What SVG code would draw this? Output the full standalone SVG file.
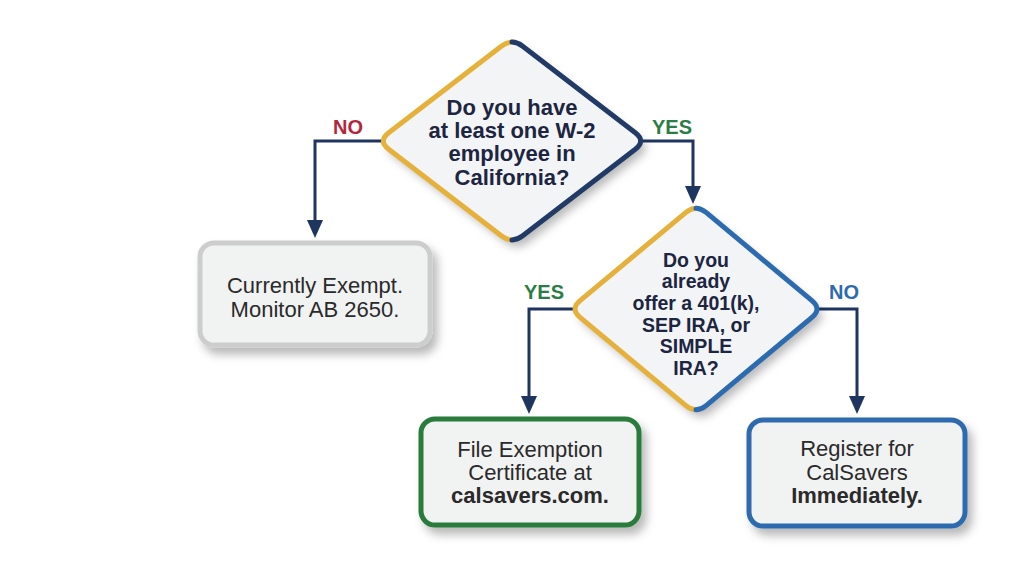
<svg xmlns="http://www.w3.org/2000/svg" width="1024" height="572" viewBox="0 0 1024 572">
<defs>
<filter id="sh" x="-20%" y="-20%" width="150%" height="150%">
<feDropShadow dx="5" dy="7" stdDeviation="5" flood-color="#000" flood-opacity="0.28"/>
</filter>
<marker id="ah" viewBox="0 0 18 16" markerWidth="18" markerHeight="16" refX="8" refY="8" orient="auto" markerUnits="userSpaceOnUse">
<path d="M0,0 L18,8 L0,16 z" fill="#1e3560"/>
</marker>
<style>
.conn{fill:none;stroke:#1e3560;stroke-width:3;marker-end:url(#ah)}
.dfill{fill:#f3f4f5;filter:url(#sh)}
.edge{fill:none;stroke-width:5;stroke-linejoin:round;stroke-linecap:round}
.q{font-family:"Liberation Sans",Arial,sans-serif;font-weight:bold;fill:#1c2541;text-anchor:middle}
.bt{font-family:"Liberation Sans",Arial,sans-serif;font-size:22px;fill:#2a2a2a;text-anchor:middle}
.bb{font-weight:bold}
.lbl{font-family:"Liberation Sans",Arial,sans-serif;font-weight:bold;font-size:20px;text-anchor:middle}
.box{filter:url(#sh);stroke-width:5}
</style>
</defs>
<rect width="1024" height="572" fill="#ffffff"/>

<g id="connectors">
<path class="conn" d="M383,141 H315 V228"/>
<path class="conn" d="M641,141 H693 V194"/>
<path class="conn" d="M575,309 H529 V404"/>
<path class="conn" d="M817,309 H857 V404"/>
<text class="lbl" x="348" y="134" fill="#b3263c">NO</text>
<text class="lbl" x="672" y="134" fill="#2a7d45">YES</text>
<text class="lbl" x="544" y="299" fill="#2a7d45">YES</text>
<text class="lbl" x="844" y="299" fill="#2d6aae">NO</text>
</g>

<g id="q1">
<path class="dfill" d="M501.3,46.2 Q512,38 522.7,46.2 L635.3,132.8 Q646,141 635.3,149.2 L522.7,235.8 Q512,244 501.3,235.8 L388.7,149.2 Q378,141 388.7,132.8 Z"/>
<path class="edge" stroke="#e5b13a" d="M512,42.1 Q506.65,42.1 501.3,46.2 L388.7,132.8 Q378,141 388.7,149.2 L501.3,235.8 Q506.65,239.9 512,239.9"/>
<path class="edge" stroke="#213a66" d="M512,42.1 Q517.35,42.1 522.7,46.2 L635.3,132.8 Q646,141 635.3,149.2 L522.7,235.8 Q517.35,239.9 512,239.9"/>
<text class="q" font-size="22" x="512" y="115">Do you have</text>
<text class="q" font-size="22" x="512" y="138">at least one W-2</text>
<text class="q" font-size="22" x="512" y="161">employee in</text>
<text class="q" font-size="22" x="512" y="185">California?</text>
</g>

<g id="q2">
<path class="dfill" d="M685.92,212.4 Q696,204 706.08,212.4 L811.92,300.6 Q822,309 811.92,317.4 L706.08,405.6 Q696,414 685.92,405.6 L580.08,317.4 Q570,309 580.08,300.6 Z"/>
<path class="edge" stroke="#e5b13a" d="M696,208.2 Q690.96,208.2 685.92,212.4 L580.08,300.6 Q570,309 580.08,317.4 L685.92,405.6 Q690.96,409.8 696,409.8"/>
<path class="edge" stroke="#2d6bb0" d="M696,208.2 Q701.04,208.2 706.08,212.4 L811.92,300.6 Q822,309 811.92,317.4 L706.08,405.6 Q701.04,409.8 696,409.8"/>
<text class="q" font-size="19.5" x="696" y="267">Do you</text>
<text class="q" font-size="19.5" x="696" y="288">already</text>
<text class="q" font-size="19.5" x="696" y="310">offer a 401(k),</text>
<text class="q" font-size="19.5" x="696" y="332">SEP IRA, or</text>
<text class="q" font-size="19.5" x="696" y="353">SIMPLE</text>
<text class="q" font-size="19.5" x="696" y="375">IRA?</text>
</g>

<g id="exempt">
<rect class="box" x="200" y="243" width="230" height="102" rx="14" fill="#f1f2f2" stroke="#cdcdcd"/>
<text class="bt" x="315" y="293">Currently Exempt.</text>
<text class="bt" x="315" y="317">Monitor AB 2650.</text>
</g>

<g id="file">
<rect class="box" x="421" y="419" width="218" height="106" rx="14" fill="#f1f2f2" stroke="#2b7b3e"/>
<text class="bt" x="530" y="457">File Exemption</text>
<text class="bt" x="530" y="480">Certificate at</text>
<text class="bt bb" x="530" y="503" font-size="21">calsavers.com.</text>
</g>

<g id="register">
<rect class="box" x="749" y="420" width="216" height="106" rx="14" fill="#f1f2f2" stroke="#2d6aae"/>
<text class="bt" x="857" y="456">Register for</text>
<text class="bt" x="857" y="480">CalSavers</text>
<text class="bt bb" x="857" y="503" font-size="21">Immediately.</text>
</g>
</svg>
